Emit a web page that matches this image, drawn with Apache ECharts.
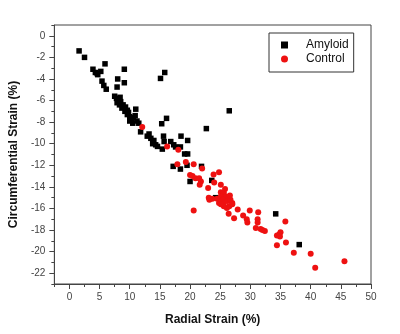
<!DOCTYPE html>
<html>
<head>
<meta charset="utf-8">
<script src="https://cdn.jsdelivr.net/npm/echarts@6/dist/echarts.min.js"></script>
<style>html,body{margin:0;padding:0;background:#fff}#c{width:400px;height:334px}</style>
</head>
<body>
<div id="c"></div>
<script>
const amyloid = [[1.6,-1.4],[2.5,-2.0],[3.9,-3.1],[4.3,-3.4],[4.7,-3.6],[5.2,-3.3],[4.6,-3.5],[5.9,-2.6],[9.1,-3.1],[5.4,-4.2],[5.7,-4.6],[6.1,-4.95],[8.0,-4.0],[9.1,-4.35],[7.9,-4.75],[7.5,-5.6],[7.8,-5.8],[8.1,-5.95],[8.4,-5.7],[7.9,-6.2],[8.5,-6.1],[8.3,-6.4],[8.9,-6.4],[9.3,-6.6],[8.7,-6.7],[9.6,-6.9],[9.2,-7.0],[11.0,-6.8],[9.6,-7.3],[10.0,-7.5],[10.3,-7.8],[10.6,-7.6],[10.9,-7.4],[11.2,-7.9],[10.0,-7.9],[10.5,-8.1],[11.5,-8.1],[9.8,-7.1],[11.8,-8.9],[15.1,-3.95],[15.8,-3.4],[16.1,-7.65],[15.3,-8.15],[12.9,-9.3],[13.5,-9.5],[14.0,-9.7],[13.2,-9.1],[14.3,-10.1],[14.6,-10.25],[13.8,-10.0],[15.6,-9.3],[15.7,-9.8],[15.4,-10.5],[16.8,-9.8],[17.3,-10.1],[17.6,-10.3],[18.5,-9.3],[19.6,-9.7],[18.4,-10.3],[19.1,-10.95],[19.6,-10.95],[17.2,-12.1],[18.4,-12.35],[19.5,-12.0],[21.9,-12.1],[20.0,-13.5],[23.6,-13.4],[24.25,-15.0],[22.7,-8.6],[26.5,-6.95],[34.2,-16.5],[38.1,-19.35]];
const control = [[12.07,-8.45],[16.2,-10.25],[18.05,-10.55],[17.9,-11.9],[19.3,-11.7],[20.6,-11.9],[22.0,-12.3],[20.0,-12.9],[20.4,-13.0],[20.9,-13.2],[21.5,-13.2],[21.8,-13.5],[21.6,-13.8],[23.9,-12.85],[24.8,-12.65],[24.0,-13.6],[25.1,-13.8],[23.0,-14.1],[23.1,-15.0],[23.7,-15.1],[24.5,-15.1],[25.1,-14.5],[25.6,-14.55],[25.9,-14.9],[25.1,-14.9],[25.4,-15.2],[24.8,-15.5],[25.6,-15.5],[26.2,-15.3],[26.7,-15.2],[27.0,-15.5],[26.5,-15.8],[26.1,-15.95],[25.6,-15.8],[25.1,-15.6],[23.2,-15.2],[27.0,-15.6],[20.6,-16.2],[27.9,-16.1],[27.3,-16.9],[26.4,-16.5],[28.8,-16.65],[29.9,-16.2],[31.3,-16.35],[29.4,-17.0],[29.5,-17.3],[31.2,-17.0],[31.2,-17.3],[30.9,-17.8],[31.7,-17.9],[32.0,-18.0],[32.4,-18.1],[35.8,-17.2],[34.4,-18.5],[34.8,-18.4],[35.0,-18.2],[34.9,-18.6],[34.4,-19.4],[35.9,-19.15],[37.2,-20.1],[40.0,-20.2],[40.75,-21.5],[45.6,-20.9],[25.8,-14.2],[26.6,-14.8]];
const xMajor = [0,5,10,15,20,25,30,35,40,45,50];
const xMinor = [-2.5,2.5,7.5,12.5,17.5,22.5,27.5,32.5,37.5,42.5,47.5];
const yMajor = [0,-2,-4,-6,-8,-10,-12,-14,-16,-18,-20,-22];
const yMinor = [1,-1,-3,-5,-7,-9,-11,-13,-15,-17,-19,-21,-23];

const font = 'Liberation Sans, Arial, sans-serif';
const lineCol = '#444';
const chart = echarts.init(document.getElementById('c'), null, {renderer:'canvas'});
const xBase = {type:'value', min:-2.5, max:50, position:'bottom', splitLine:{show:false}};
const yBase = {type:'value', min:-23, max:1, position:'left', splitLine:{show:false}};
chart.setOption({
  animation:false,
  backgroundColor:'#fff',
  grid:{left:54, right:29, top:25, bottom:50, show:true, borderColor:lineCol, borderWidth:1, containLabel:false},
  legend:{
    orient:'vertical', left:269, top:33, show:true,
    data:['Amyloid','Control'],
    borderColor:'#333', borderWidth:1, padding:[5,5,6,12],
    itemWidth:7, itemHeight:7, itemGap:0,
    textStyle:{fontFamily:font, fontSize:12, color:'#111', lineHeight:14, padding:[0,0,0,13]}
  },
  xAxis:[
    Object.assign({}, xBase, {
      name:'Radial Strain (%)', nameLocation:'middle', nameGap:30,
      nameTextStyle:{fontFamily:font, fontSize:12, fontWeight:'bold', color:'#111'},
      axisLine:{show:true, onZero:false, lineStyle:{color:lineCol}},
      axisTick:{show:true, inside:false, length:5, customValues:xMajor, lineStyle:{color:lineCol}},
      axisLabel:{show:true, margin:8, customValues:xMajor, fontFamily:font, fontSize:10, color:'#444'}
    }),
    Object.assign({}, xBase, {
      axisLine:{show:false, onZero:false},
      axisTick:{show:true, inside:false, length:3, customValues:xMinor, lineStyle:{color:lineCol}},
      axisLabel:{show:false}
    })
  ],
  yAxis:[
    Object.assign({}, yBase, {
      name:'Circumferential Strain (%)', nameLocation:'middle', nameGap:31, nameRotate:90,
      nameTextStyle:{fontFamily:font, fontSize:12, fontWeight:'bold', color:'#111'},
      axisLine:{show:true, onZero:false, lineStyle:{color:lineCol}},
      axisTick:{show:true, inside:false, length:5, customValues:yMajor, lineStyle:{color:lineCol}},
      axisLabel:{show:true, margin:9, customValues:yMajor, fontFamily:font, fontSize:10, color:'#444'}
    }),
    Object.assign({}, yBase, {
      axisLine:{show:false, onZero:false},
      axisTick:{show:true, inside:false, length:3, customValues:yMinor, lineStyle:{color:lineCol}},
      axisLabel:{show:false}
    })
  ],
  series:[
    {name:'Amyloid', type:'scatter', xAxisIndex:0, yAxisIndex:0, symbol:'rect', symbolSize:5.5,
     itemStyle:{color:'#000', opacity:1}, data:amyloid},
    {name:'Control', type:'scatter', xAxisIndex:0, yAxisIndex:0, symbol:'circle', symbolSize:6,
     itemStyle:{color:'#ee1111', opacity:1}, data:control}
  ]
});
</script>
</body>
</html>
